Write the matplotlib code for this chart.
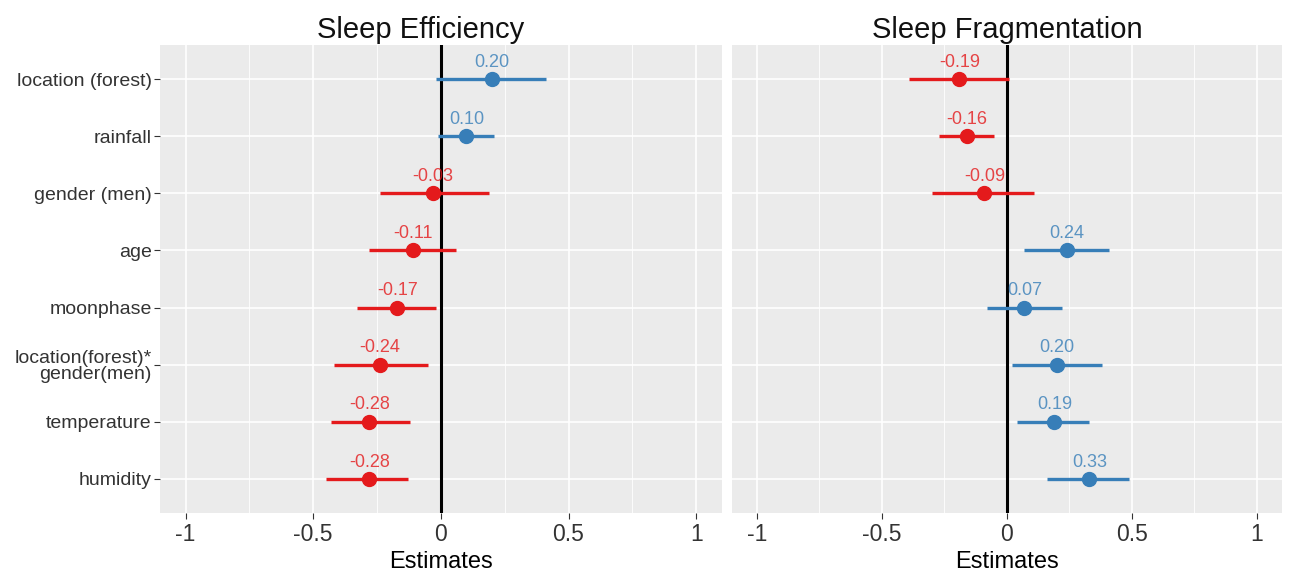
import matplotlib
matplotlib.use("Agg")
import matplotlib.pyplot as plt
from matplotlib.ticker import MultipleLocator

plt.rcParams['font.family'] = ['Liberation Sans', 'DejaVu Sans']

terms = ["location (forest)", "rainfall", "gender (men)", "age", "moonphase",
         "location(forest)*\ngender(men)", "temperature", "humidity"]

se_est = [0.20, 0.10, -0.03, -0.11, -0.17, -0.24, -0.28, -0.28]
se_lo = [-0.02, -0.01, -0.24, -0.28, -0.33, -0.42, -0.43, -0.45]
se_hi = [0.41, 0.21, 0.19, 0.06, -0.02, -0.05, -0.12, -0.13]

sf_est = [-0.19, -0.16, -0.09, 0.24, 0.07, 0.20, 0.19, 0.33]
sf_lo = [-0.39, -0.27, -0.30, 0.07, -0.08, 0.02, 0.04, 0.16]
sf_hi = [0.01, -0.05, 0.11, 0.41, 0.22, 0.38, 0.33, 0.49]

titles = ["Sleep Efficiency", "Sleep Fragmentation"]
xticks = [-1, -0.5, 0, 0.5, 1]
xticklabels = ["-1", "-0.5", "0", "0.5", "1"]

RED = "#E41A1C"
BLUE = "#377EB8"

fig = plt.figure(figsize=(12.91, 5.74), dpi=100)
axes = [fig.add_axes([0.124, 0.106, 0.435, 0.816]),
        fig.add_axes([0.567, 0.106, 0.426, 0.816])]
title_x = [0.464, 0.5]

n = len(terms)
ypos = list(range(n, 0, -1))

for ax, title, tx, est, lo, hi, show_y in zip(axes, titles, title_x, [se_est, sf_est],
                                               [se_lo, sf_lo], [se_hi, sf_hi], [True, False]):
    ax.set_facecolor("#EBEBEB")
    for s in ax.spines.values():
        s.set_visible(False)
    ax.set_xlim(-1.1, 1.1)
    ax.set_ylim(0.4, n + 0.6)
    ax.xaxis.set_minor_locator(MultipleLocator(0.25))
    ax.set_xticks(xticks)
    ax.set_xticklabels(xticklabels)
    ax.grid(which="major", color="white", linewidth=1.2, zorder=0)
    ax.grid(which="minor", axis="x", color="white", linewidth=0.6, zorder=0)
    ax.set_axisbelow(True)
    ax.tick_params(axis="x", which="minor", length=0)
    ax.tick_params(axis="x", which="major", length=4, color="#333333",
                   labelsize=16.5, labelcolor="#333333", pad=3)
    ax.set_yticks(ypos)
    if show_y:
        ax.set_yticklabels(terms)
        ax.tick_params(axis="y", length=4, color="#333333", labelsize=14,
                       labelcolor="#333333", pad=2)
        for lab in ax.get_yticklabels():
            lab.set_linespacing(0.95)
    else:
        ax.set_yticklabels([])
        ax.tick_params(axis="y", length=0)
    ax.axvline(0, color="black", linewidth=2.2, zorder=2)
    for y, e, l, h in zip(ypos, est, lo, hi):
        c = BLUE if e > 0 else RED
        ax.plot([l, h], [y, y], color=c, linewidth=2.4, solid_capstyle="butt", zorder=3)
        ax.plot([e], [y], marker="o", markersize=10, color=c, zorder=4)
        ax.annotate(f"{e:.2f}", (e, y), xytext=(0, 6), textcoords="offset points",
                    ha="center", va="bottom", fontsize=13, color=c, alpha=0.8, zorder=5)
    ax.set_title(title, fontsize=21, color="#111111", pad=5, x=tx)
    ax.set_xlabel("Estimates", fontsize=17, color="black", labelpad=4)

fig.savefig("out.png", dpi=100, facecolor="white")
